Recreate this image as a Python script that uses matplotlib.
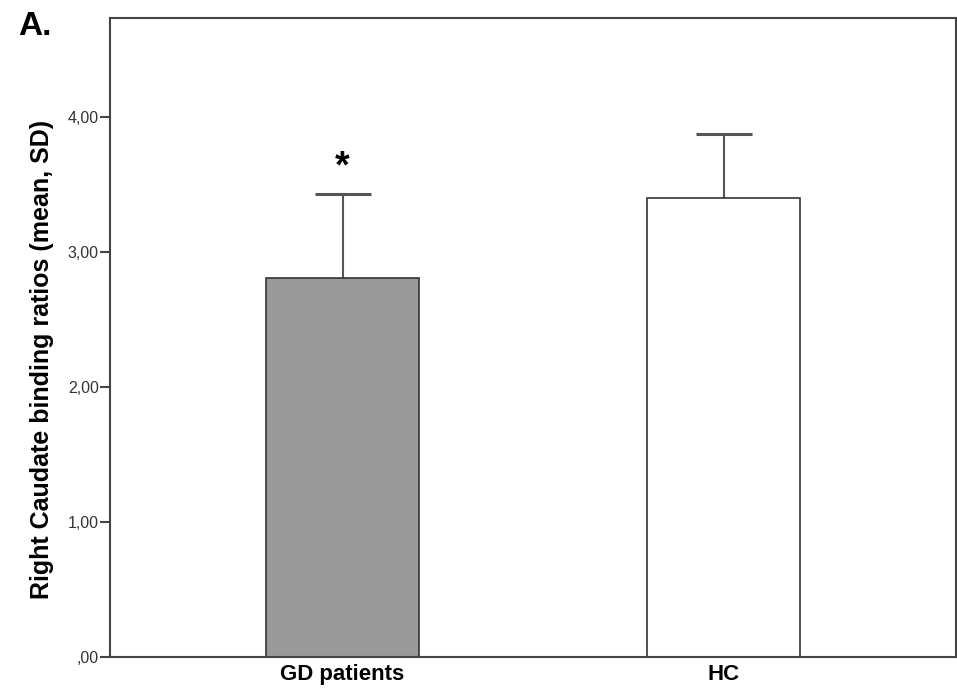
import numpy as np
import matplotlib.pyplot as plt

plt.rcParams['font.family'] = ['Liberation Sans', 'DejaVu Sans']

groups = ['GD patients', 'HC']
means = [2.81, 3.40]
sds = [0.62, 0.48]
bar_colors = ['#999999', '#ffffff']
yticks = [0, 1, 2, 3, 4]
ytick_labels = [',00', '1,00', '2,00', '3,00', '4,00']

edge = '#333333'

fig = plt.figure(figsize=(9.57, 6.89), dpi=100)
ax = fig.add_axes([0.115, 0.0464, 0.884, 0.928])

x = np.arange(len(groups))
ax.bar(x, means, width=0.40, color=bar_colors, edgecolor=edge, linewidth=1.2, zorder=2)
eb = ax.errorbar(x, means, yerr=[np.zeros(len(sds)), sds], fmt='none', ecolor='#555555',
                 elinewidth=1.5, capsize=20.5, capthick=2.2, zorder=1)
# only keep the upper caps
eb[1][0].set_visible(False)

# significance star above GD
ax.text(x[0], means[0] + sds[0] + 0.2, '*', ha='center', va='center',
        fontsize=27, fontweight='bold')

ax.set_xlim(-0.61, 1.61)
ax.set_ylim(0, 4.74)
ax.set_yticks(yticks)
ax.set_yticklabels(ytick_labels, fontsize=11.5, color='#333333')
ax.set_xticks(x)
ax.set_xticklabels(groups, fontsize=16, fontweight='bold')
ax.tick_params(axis='x', length=0, pad=5)
ax.tick_params(axis='y', length=7, width=1.5, color='#444444', pad=1)
for s in ax.spines.values():
    s.set_color('#444444')
    s.set_linewidth(1.5)

ax.set_ylabel('Right Caudate binding ratios (mean, SD)', fontsize=18, fontweight='bold')
ax.yaxis.set_label_coords(-0.066, 0.466)

fig.text(0.019, 0.962, 'A.', fontsize=24, fontweight='bold', va='center', ha='left')

fig.savefig('out.png', dpi=100)
